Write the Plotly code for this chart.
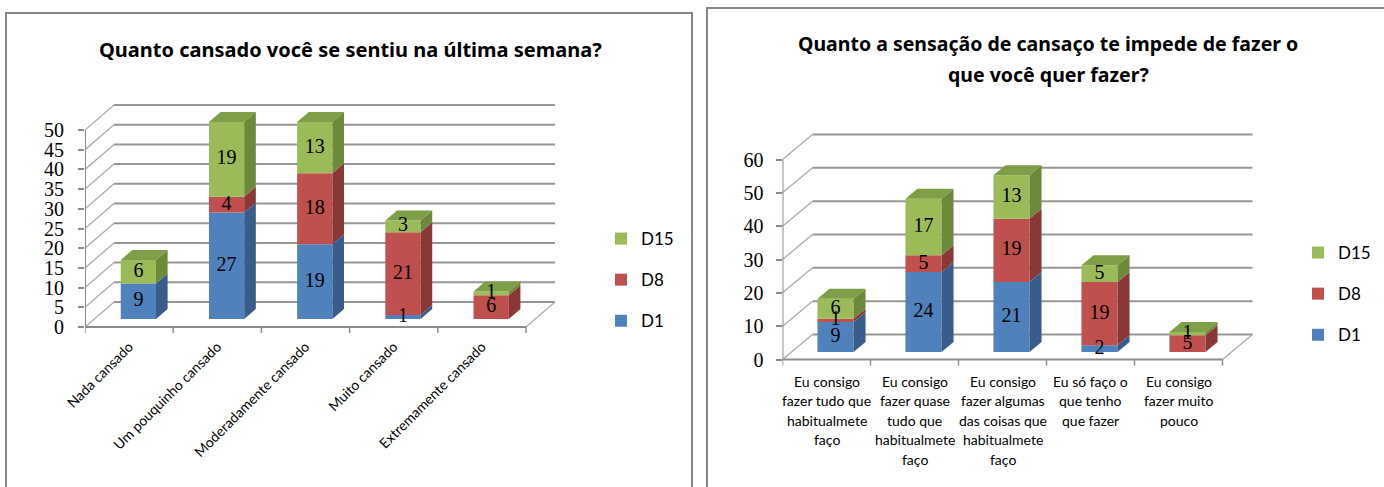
import plotly.graph_objects as go

W, H = 1384, 487

# ---------------- data ----------------
series_names = ["D1", "D8", "D15"]

left_title = "Quanto cansado você se sentiu na última semana?"
left_categories = ["Nada cansado", "Um pouquinho cansado", "Moderadamente cansado",
                   "Muito cansado", "Extremamente cansado"]
left_d1 = [9, 27, 19, 1, 0]
left_d8 = [0, 4, 18, 21, 6]
left_d15 = [6, 19, 13, 3, 1]
left_ticks = [0, 5, 10, 15, 20, 25, 30, 35, 40, 45, 50]

right_title_lines = ["Quanto a sensação de cansaço te impede de fazer o", "que você quer fazer?"]
right_categories = [
    ["Eu consigo", "fazer tudo que", "habitualmete", "faço"],
    ["Eu consigo", "fazer quase", "tudo que", "habitualmete", "faço"],
    ["Eu consigo", "fazer algumas", "das coisas que", "habitualmete", "faço"],
    ["Eu só faço o", "que tenho", "que fazer"],
    ["Eu consigo", "fazer muito", "pouco"],
]
right_d1 = [9, 24, 21, 2, 0]
right_d8 = [1, 5, 19, 19, 5]
right_d15 = [6, 17, 13, 5, 1]
right_ticks = [0, 10, 20, 30, 40, 50, 60]

# ---------------- style ----------------
front_colors = ["#4F81BD", "#C0504D", "#9BBB59"]
side_colors = ["#385D8A", "#8A3836", "#6C8A3A"]
top_colors = ["#4874AA", "#A44643", "#7E9E47"]
legend_ranks = [3, 2, 1]
grid_color = "#979797"
diag_color = "#ABABAB"
axis_color = "#8C8C8C"
SANS = "'Noto Sans', Lato, sans-serif"
LABEL = "Lato, 'Noto Sans', sans-serif"
SERIF = "'Liberation Serif', 'DejaVu Serif', serif"

fig = go.Figure()


def px_x(p):
    return p / W


def px_y(p):
    return 1 - p / H


def build_panel(ax, geo, categories_rot, series_vals, ticks, legend_name):
    X0, CW, Y0, S = geo["X0"], geo["CW"], geo["Y0"], geo["S"]
    DXu = geo["DXpx"] / CW
    DYv = geo["DYpx"] / S
    d0, d1, BW = geo["d0"], geo["d1"], geo["BW"]
    dd = d1 - d0
    xref = "x" if ax == 1 else "x%d" % ax
    yref = "y" if ax == 1 else "y%d" % ax
    n = len(series_vals[0])
    vmax = ticks[-1]

    xr0 = -0.5
    xr1 = -0.5 + (geo["Xend"] - X0) / CW
    yr0 = (Y0 - geo["Ybot"]) / S
    yr1 = (Y0 - geo["Ytop"]) / S

    xkey = "xaxis" if ax == 1 else "xaxis%d" % ax
    ykey = "yaxis" if ax == 1 else "yaxis%d" % ax
    xaxis = dict(domain=[px_x(X0), px_x(geo["Xend"])], range=[xr0, xr1],
                 showgrid=False, zeroline=False, showline=False, anchor=yref,
                 fixedrange=True, automargin=False)
    if categories_rot is not None:
        xaxis.update(tickmode="array", tickvals=list(range(n)), ticktext=categories_rot,
                     tickangle=-45, ticks="", tickfont=dict(family=LABEL, size=14, color="#000"))
    else:
        xaxis.update(showticklabels=False, ticks="")
    yaxis = dict(domain=[px_y(geo["Ybot"]), px_y(geo["Ytop"])], range=[yr0, yr1],
                 showgrid=False, zeroline=False, showline=False, anchor=xref,
                 tickmode="array", tickvals=ticks, ticktext=[str(t) for t in ticks],
                 ticks="outside", ticklen=6, tickcolor=axis_color, tickwidth=1.5,
                 ticklabelstandoff=geo["standoff"],
                 tickfont=dict(family=SERIF, size=20, color="#000"), fixedrange=True,
                 automargin=False)
    fig.update_layout(**{xkey: xaxis, ykey: yaxis})

    # walls / grid
    line_g = dict(color=grid_color, width=2)
    line_d = dict(color=diag_color, width=1.3)
    for t in ticks:
        fig.add_shape(type="line", xref=xref, yref=yref, layer="below",
                      x0=-0.5 + DXu, x1=n - 0.5 + DXu, y0=t + DYv, y1=t + DYv, line=line_g)
        fig.add_shape(type="line", xref=xref, yref=yref, layer="below",
                      x0=-0.5, x1=-0.5 + DXu, y0=t, y1=t + DYv, line=line_d)
    # floor right edge
    fig.add_shape(type="line", xref=xref, yref=yref, layer="below",
                  x0=n - 0.5, x1=n - 0.5 + DXu, y0=0, y1=DYv, line=line_d)
    # front axes
    fig.add_shape(type="line", xref=xref, yref=yref, layer="below",
                  x0=-0.5, x1=n - 0.5, y0=0, y1=0, line=dict(color=axis_color, width=2))
    fig.add_shape(type="line", xref=xref, yref=yref, layer="below",
                  x0=-0.5, x1=-0.5, y0=0, y1=vmax, line=dict(color=axis_color, width=2))
    for k in range(n + 1):
        fig.add_shape(type="line", xref=xref, yref=yref, layer="below",
                      x0=k - 0.5, x1=k - 0.5, y0=0, y1=-6 / S,
                      line=dict(color=axis_color, width=1.5))

    # bars
    cum = [0.0] * n
    tops = [None] * n
    lab_x, lab_y, lab_t = [], [], []
    for s, vals in enumerate(series_vals):
        xs = [i + d0 * DXu for i in range(n)]
        bases = [cum[i] + d0 * DYv for i in range(n)]
        fig.add_trace(go.Bar(
            x=xs, y=vals, base=bases, width=BW, name=series_names[s],
            marker=dict(color=front_colors[s], line=dict(width=0)),
            xaxis=xref, yaxis=yref, legend=legend_name,
            legendgroup=series_names[s] + legend_name, legendrank=legend_ranks[s],
            hoverinfo="name+y"))
        sx, sy = [], []
        for i, v in enumerate(vals):
            if v <= 0:
                continue
            xr = xs[i] + BW / 2
            b = bases[i]
            t = b + v
            sx += [xr, xr + dd * DXu, xr + dd * DXu, xr, xr, None]
            sy += [b, b + dd * DYv, t + dd * DYv, t, b, None]
            lab_x.append(xs[i])
            lab_y.append(b + v / 2)
            lab_t.append(str(v))
            tops[i] = (s, t, xs[i])
        fig.add_trace(go.Scatter(x=sx, y=sy, mode="lines", fill="toself",
                                 fillcolor=side_colors[s], line=dict(width=0, color=side_colors[s]),
                                 xaxis=xref, yaxis=yref, showlegend=False, hoverinfo="skip"))
        for i in range(n):
            cum[i] += vals[i]
    for s in range(len(series_vals)):
        tx, ty = [], []
        for i in range(n):
            if tops[i] is None or tops[i][0] != s:
                continue
            _, T, xc = tops[i]
            xl, xr = xc - BW / 2, xc + BW / 2
            tx += [xl, xr, xr + dd * DXu, xl + dd * DXu, xl, None]
            ty += [T, T, T + dd * DYv, T + dd * DYv, T, None]
        if tx:
            fig.add_trace(go.Scatter(x=tx, y=ty, mode="lines", fill="toself",
                                     fillcolor=top_colors[s], line=dict(width=0, color=top_colors[s]),
                                     xaxis=xref, yaxis=yref, showlegend=False, hoverinfo="skip"))
    fig.add_trace(go.Scatter(x=lab_x, y=lab_y, text=lab_t, mode="text",
                             textfont=dict(family=SERIF, size=20, color="#000"),
                             xaxis=xref, yaxis=yref, showlegend=False, hoverinfo="skip"))


left_geo = dict(X0=85, CW=88.2, Y0=327, S=3.94, DXpx=29, DYpx=25, d0=0.32, d1=0.72, BW=0.40,
                Xend=600, Ybot=335, Ytop=90, standoff=10)
right_geo = dict(X0=782.5, CW=88, Y0=359.5, S=200 / 60, DXpx=30, DYpx=25, d0=0.30, d1=0.70, BW=0.41,
                 Xend=1290, Ybot=367, Ytop=110, standoff=8)

build_panel(1, left_geo, left_categories, [left_d1, left_d8, left_d15], left_ticks, "legend")
build_panel(2, right_geo, None, [right_d1, right_d8, right_d15], right_ticks, "legend2")

# right category labels, one line at a time
for i, lines in enumerate(right_categories):
    for k, ln in enumerate(lines):
        fig.add_annotation(x=i, xref="x2", y=px_y(381 + k * 19.5), yref="paper",
                           text=ln, showarrow=False, xanchor="center", yanchor="middle",
                           font=dict(family=LABEL, size=14, color="#000"))

# titles
fig.add_annotation(x=px_x(350), y=px_y(50), xref="paper", yref="paper", text="<b>%s</b>" % left_title,
                   showarrow=False, xanchor="center", yanchor="middle",
                   font=dict(family=SANS, size=20, color="#000"))
for k, ln in enumerate(right_title_lines):
    fig.add_annotation(x=px_x(1048), y=px_y(43 + k * 31), xref="paper", yref="paper",
                       text="<b>%s</b>" % ln, showarrow=False, xanchor="center", yanchor="middle",
                       font=dict(family=SANS, size=19.5, color="#000"))

# panel borders
fig.add_shape(type="rect", xref="paper", yref="paper", x0=px_x(6), x1=px_x(692),
              y0=px_y(13), y1=px_y(500), line=dict(color="#868686", width=2))
fig.add_shape(type="rect", xref="paper", yref="paper", x0=px_x(707), x1=px_x(1400),
              y0=px_y(8), y1=px_y(500), line=dict(color="#868686", width=2))

legend_common = dict(traceorder="grouped", tracegroupgap=16, bgcolor="rgba(0,0,0,0)",
                     font=dict(family=LABEL, size=17, color="#000"), xanchor="left", yanchor="top",
                     itemclick=False, itemdoubleclick=False, borderwidth=0)
fig.update_layout(
    width=W, height=H, margin=dict(l=0, r=0, t=0, b=0, autoexpand=False),
    paper_bgcolor="white", plot_bgcolor="rgba(0,0,0,0)",
    barmode="overlay", showlegend=True,
    legend=dict(x=px_x(601), y=px_y(221), **legend_common),
    legend2=dict(x=px_x(1298), y=px_y(235), **legend_common),
)

fig.write_html("out.html", config={"displayModeBar": False},
               post_script="document.body.style.margin='0px';")
